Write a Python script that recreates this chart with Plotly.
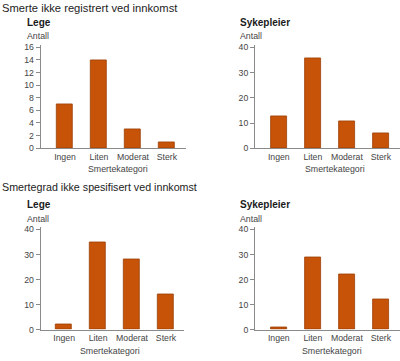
import plotly.graph_objects as go

W, H = 400, 361

categories = ["Ingen", "Liten", "Moderat", "Sterk"]
lege_ikke_registrert = [7, 14, 3, 1]
sykepleier_ikke_registrert = [12.5, 35.5, 10.5, 6]
lege_ikke_spesifisert = [2, 35, 28, 14]
sykepleier_ikke_spesifisert = [1, 29, 22, 12]

heading_top = "Smerte ikke registrert ved innkomst"
heading_bottom = "Smertegrad ikke spesifisert ved innkomst"
panel_titles = ["Lege", "Sykepleier", "Lege", "Sykepleier"]
y_label = "Antall"
x_label = "Smertekategori"

FONT = "Liberation Sans, Arial, Helvetica, sans-serif"
BAR = "#c75308"
BAR_EDGE = "#9a4006"
AXIS = "#8a8a8a"
TICKTXT = "#444444"

def px_x(p):
    return p / W

def px_y(p):
    return 1 - p / H

panels = [
    (40.7, 186, 43.3, 148.5),
    (255, 400, 43.3, 148.5),
    (40.7, 184, 229.5, 334),
    (255, 400, 229.5, 334),
]
xranges = [[-0.715, 3.56], [-0.70, 3.56], [-0.69, 3.53], [-0.70, 3.56]]
yranges = [[0, 16.3], [0, 40.8], [0, 40.8], [0, 40.8]]
ytickvals = [list(range(0, 17, 2)), [0, 10, 20, 30, 40], [0, 10, 20, 30, 40], [0, 10, 20, 30, 40]]
series = [lege_ikke_registrert, sykepleier_ikke_registrert, lege_ikke_spesifisert, sykepleier_ikke_spesifisert]

fig = go.Figure()
layout = dict(
    width=W, height=H,
    margin=dict(l=0, r=0, t=0, b=0),
    paper_bgcolor="white", plot_bgcolor="white",
    showlegend=False,
    font=dict(family=FONT, size=9, color=TICKTXT),
    bargap=0,
)

for i, (vals, (l, r, t, b)) in enumerate(zip(series, panels)):
    n = "" if i == 0 else str(i + 1)
    fig.add_trace(go.Bar(
        x=categories, y=vals, width=0.47,
        marker=dict(color=BAR, line=dict(color=BAR_EDGE, width=0.8)),
        xaxis="x" + n, yaxis="y" + n, hoverinfo="x+y",
    ))
    layout["xaxis" + n] = dict(
        domain=[px_x(l), px_x(r)], anchor="y" + n,
        type="category", range=xranges[i],
        showline=True, linecolor=AXIS, linewidth=1,
        showgrid=False, zeroline=False, ticks="",
        tickfont=dict(family=FONT, size=8.7, color=TICKTXT),
        ticklabelstandoff=0,
    )
    layout["yaxis" + n] = dict(
        domain=[px_y(b), px_y(t)], anchor="x" + n,
        range=yranges[i], tickvals=ytickvals[i],
        showline=True, linecolor=AXIS, linewidth=1,
        showgrid=False, zeroline=False,
        ticks="outside", ticklen=4, tickcolor=AXIS, tickwidth=1,
        tickfont=dict(family=FONT, size=8.7, color=TICKTXT),
    )

annotations = []

def add_text(text, x, y, size, color="#222222", bold=False, xanchor="left"):
    annotations.append(dict(
        text=("<b>%s</b>" % text) if bold else text,
        x=px_x(x), y=px_y(y), xref="paper", yref="paper",
        xanchor=xanchor, yanchor="middle", showarrow=False,
        font=dict(family=FONT, size=size, color=color),
    ))

add_text(heading_top, 0, 5, 11.2)
add_text(heading_bottom, 0, 188.5, 10.7)

title_pos = [(25, 20), (238.3, 20), (25, 206), (238.3, 206)]
antall_pos = [(25, 33.5), (238.3, 33.5), (24.5, 220.7), (238.3, 220.7)]
xlabel_pos = [(118, 170), (335, 170), (110, 355.5), (332, 355.5)]

for i in range(4):
    add_text(panel_titles[i], title_pos[i][0], title_pos[i][1], 10, color="#1a1a1a", bold=True)
    add_text(y_label, antall_pos[i][0], antall_pos[i][1], 8.8, color=TICKTXT)
    add_text(x_label, xlabel_pos[i][0], xlabel_pos[i][1], 8.8, color=TICKTXT, xanchor="center")

layout["annotations"] = annotations
fig.update_layout(**layout)
fig.write_html(
    "out.html",
    config={"displayModeBar": False},
    post_script="document.body.style.margin='0';document.body.style.overflow='hidden';",
)
